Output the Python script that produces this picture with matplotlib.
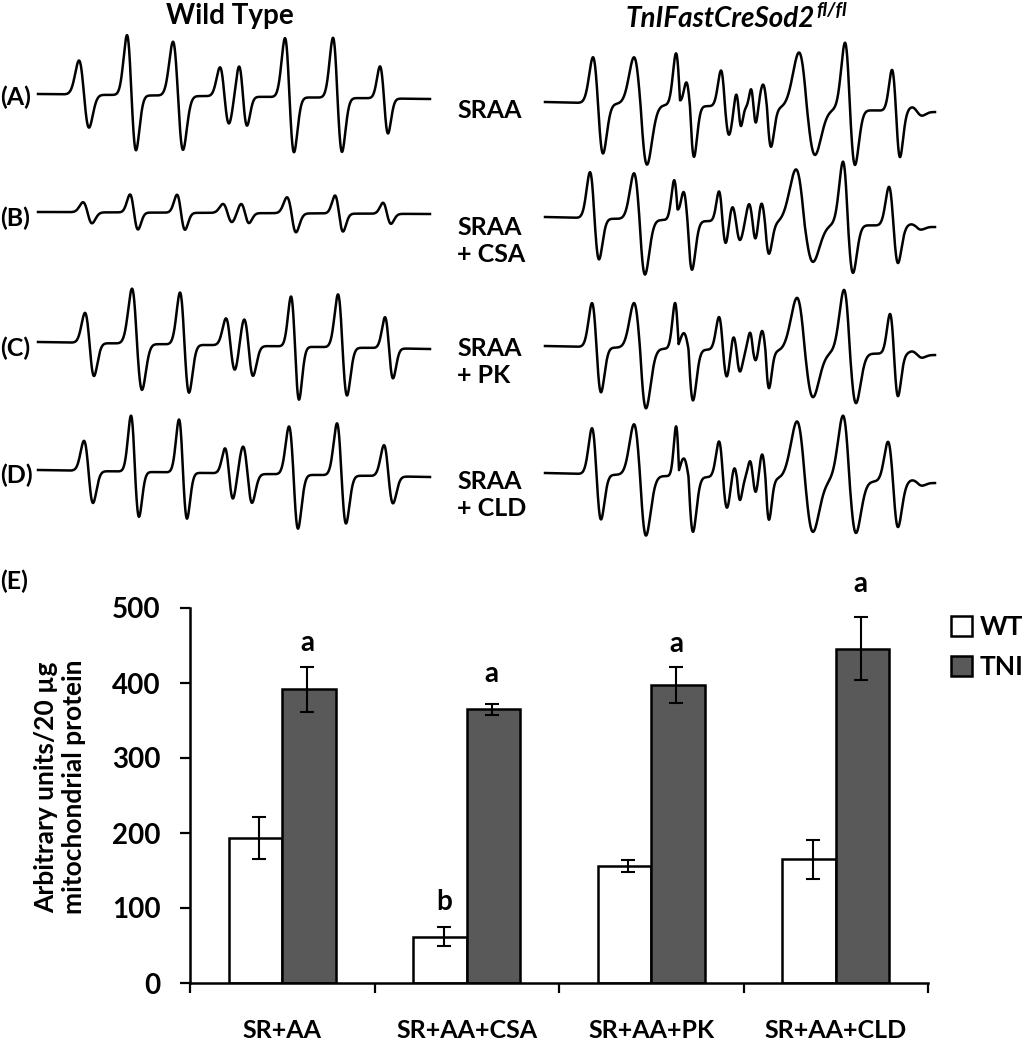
import numpy as np
import matplotlib.pyplot as plt
from matplotlib.patches import Patch
from matplotlib.text import Annotation

W, H = 1022, 1050
plt.rcParams['font.family'] = ['Lato', 'DejaVu Sans']
plt.rcParams['font.weight'] = 'bold'

# EPR spectra: one tuple per line -> (peak field, peak height, trough field, trough depth)
wt_a = [(41, 34, 51, 33), (89, 60, 98, 55), (135, 54, 145, 54), (182, 29, 191, 27),
        (201, 30, 209, 29), (247, 59, 256, 55), (295, 60, 304, 54), (342, 32, 350, 35)]
wt_b = [(45, 10, 54, 11), (92, 18, 100, 17), (139, 18, 147, 17), (185, 9, 194, 9),
        (203, 9, 211, 10), (249, 16, 258, 19), (297, 18, 305, 18), (345, 11, 353, 10)]
wt_c = [(47, 30, 56, 33), (94, 55, 104, 46), (142, 52, 151, 48), (188, 27, 197, 24),
        (206, 26, 215, 30), (253, 50, 261, 53), (300, 53, 309, 48), (347, 31, 355, 30)]
wt_d = [(46, 30, 55, 32), (93, 56, 101, 45), (141, 53, 149, 46), (187, 25, 195, 25),
        (205, 27, 214, 29), (251, 48, 260, 54), (299, 52, 308, 48), (346, 31, 355, 27)]

tni_a = [(48, 46, 58, 50), (89, 47, 102, 60), (131, 52, 139, -16), (141, 23, 149, 51),
         (176, 36, 184, 28), (191, 12, 196, 19), (206, 18, 211, 15), (218, 23, 226, 39),
         (254, 56, 270, 46), (300, 67, 310, 55), (347, 41, 355, 46), (367, 4, 377, 4)]
tni_b = [(45, 46, 54, 41), (89, 46, 100, 55), (129, 40, 136, -20), (138, 28, 147, 49),
         (174, 30, 181, 21), (187, 14, 195, 18), (204, 18, 211, 15), (216, 18, 224, 31),
         (251, 54, 268, 38), (298, 63, 308, 48), (344, 39, 353, 37), (366, 2, 376, 3)]
tni_c = [(47, 44, 56, 45), (89, 45, 101, 60), (130, 46, 137, -14), (139, 16, 148, 51),
         (174, 33, 182, 26), (188, 12, 195, 21), (205, 18, 211, 9), (217, 20, 224, 37),
         (252, 54, 268, 45), (299, 63, 311, 50), (345, 40, 353, 42), (367, 3, 377, 3)]
tni_d = [(47, 46, 56, 45), (89, 51, 101, 60), (131, 50, 137, -16), (139, 18, 148, 55),
         (174, 36, 182, 30), (189, 9, 195, 22), (205, 17, 211, 13), (217, 24, 224, 41),
         (252, 58, 268, 52), (298, 65, 311, 52), (343, 40, 353, 45), (367, 2, 377, 3)]

# baseline drift (start, end) for each trace
wt_drift = [(0, -5), (0, -2), (0, -7), (0, -7)]
tni_drift = [(0, -10), (0, -10), (0, -9), (0, -10)]
wt_span = 392
tni_span = 390

row_labels = ['(A)', '(B)', '(C)', '(D)']
mid_labels = ['SRAA', 'SRAA\n+ CSA', 'SRAA\n+ PK', 'SRAA\n+ CLD']

# bar chart
categories = ['SR+AA', 'SR+AA+CSA', 'SR+AA+PK', 'SR+AA+CLD']
wt_mean = [193, 62, 156, 165]
wt_err = [28, 13, 7.5, 26]
tni_mean = [392, 365, 397, 446]
tni_err = [30, 7, 24, 42]
tni_letters = ['a', 'a', 'a', 'a']
wt_letters = ['', 'b', '', '']
letter_gap = [14, 22, 14, 27]


def shapes(f, lines):
    out = []
    for p, _, t, _ in lines:
        c, w = (p + t) / 2, (t - p) / 2
        u = (f - c) / w
        g = -u * np.exp((1 - u ** 2) / 2)
        out.append(np.where(u < 0, g, 0.0))
        out.append(np.where(u >= 0, g, 0.0))
    return np.array(out)


def spectrum(lines, span, drift):
    f = np.linspace(0, span, 2000)
    pts = np.array([v for p, _, t, _ in lines for v in (p, t)], dtype=float)
    target = np.array([v for _, h, _, d in lines for v in (h, -d)], dtype=float)
    M = shapes(pts, lines).T
    coef = np.linalg.lstsq(M, target, rcond=None)[0]
    y = coef @ shapes(f, lines)
    y += drift[0] + (drift[1] - drift[0]) * f / span
    return f, y


def px(x, y):
    return x / W, 1 - y / H


fig = plt.figure(figsize=(W / 100, H / 100), dpi=100)

wt_rows = [94, 212, 342, 470]
tni_rows = [102, 217, 346, 473]
for spec, drift, yb in zip([wt_a, wt_b, wt_c, wt_d], wt_drift, wt_rows):
    ax = fig.add_axes([38 / W, 1 - (yb + 75) / H, wt_span / W, 150 / H])
    f, y = spectrum(spec, wt_span, drift)
    ax.plot(f, y, color='black', lw=1.8, clip_on=False)
    ax.set_xlim(0, wt_span)
    ax.set_ylim(-75, 75)
    ax.axis('off')
for spec, drift, yb in zip([tni_a, tni_b, tni_c, tni_d], tni_drift, tni_rows):
    ax = fig.add_axes([545 / W, 1 - (yb + 75) / H, tni_span / W, 150 / H])
    f, y = spectrum(spec, tni_span, drift)
    ax.plot(f, y, color='black', lw=1.8, clip_on=False)
    ax.set_xlim(0, tni_span)
    ax.set_ylim(-75, 75)
    ax.axis('off')

fig.text(*px(230, 16), 'Wild Type', fontsize=20, ha='center', va='center')
ttl = fig.text(*px(626, 19), 'TnIFastCreSod2', fontsize=20, fontstyle='italic',
               ha='left', va='center')
fig.add_artist(Annotation('fl/fl', xy=(1.0, 1.0), xycoords=ttl, xytext=(1, 3),
                          textcoords='offset points', fontsize=14, fontstyle='italic',
                          ha='left', va='top'))

for lab, yc in zip(row_labels, [97, 218, 348, 475]):
    fig.text(*px(0, yc), lab, fontsize=18, ha='left', va='center')
for lab, yc in zip(mid_labels, [110, 241, 362, 495]):
    fig.text(*px(457, yc), lab, fontsize=18, ha='left', va='center', linespacing=1.2)
fig.text(*px(0, 581), '(E)', fontsize=18, ha='left', va='center')

# bar panel
ax = fig.add_axes([190 / W, 1 - 983 / H, 738 / W, 375 / H])
x = np.arange(len(categories))
bw = 0.29
ax.bar(x - bw / 2, wt_mean, bw, color='white', edgecolor='black', lw=1.8, zorder=2)
ax.bar(x + bw / 2, tni_mean, bw, color='#595959', edgecolor='black', lw=1.8, zorder=2)
ax.errorbar(x - bw / 2 + 0.02, wt_mean, yerr=wt_err, fmt='none', ecolor='black',
            elinewidth=1.5, capsize=5, capthick=1.5, zorder=3)
ax.errorbar(x + bw / 2 - 0.01, tni_mean, yerr=tni_err, fmt='none', ecolor='black',
            elinewidth=1.5, capsize=5, capthick=1.5, zorder=3)
for i in range(len(categories)):
    if tni_letters[i]:
        ax.text(x[i] + bw / 2 - 0.01, tni_mean[i] + tni_err[i] + letter_gap[i],
                tni_letters[i], ha='center', va='bottom', fontsize=20)
    if wt_letters[i]:
        ax.text(x[i] - bw / 2 + 0.02, wt_mean[i] + wt_err[i] + 15,
                wt_letters[i], ha='center', va='bottom', fontsize=20)

ax.set_xlim(-0.5, len(categories) - 0.5)
ax.set_ylim(0, 500)
ax.set_yticks([0, 100, 200, 300, 400, 500])
ax.tick_params(axis='y', labelsize=20, length=7, width=1.6, pad=14)
ax.set_xticks(np.arange(len(categories) + 1) - 0.5)
ax.set_xticklabels([])
ax.tick_params(axis='x', which='major', length=7, width=1.6)
ax.set_xticks(x, minor=True)
ax.set_xticklabels(categories, minor=True, fontsize=18)
ax.tick_params(axis='x', which='minor', length=0, pad=26)
for s in ['top', 'right']:
    ax.spines[s].set_visible(False)
for s in ['left', 'bottom']:
    ax.spines[s].set_linewidth(1.8)

fig.text(*px(60, 787), 'Arbitrary units/20 µg\nmitochondrial protein', fontsize=19,
         rotation=90, ha='center', va='center', multialignment='center', linespacing=1.2)

handles = [Patch(facecolor='white', edgecolor='black', lw=1.8),
           Patch(facecolor='#595959', edgecolor='black', lw=1.8)]
fig.legend(handles, ['WT', 'TNI'], loc='center left', bbox_to_anchor=px(951, 647),
           frameon=False, fontsize=19, handlelength=0.8, handleheight=0.8,
           handletextpad=0.3, labelspacing=0.6, borderpad=0, borderaxespad=0)

fig.savefig('out.png', dpi=100)
